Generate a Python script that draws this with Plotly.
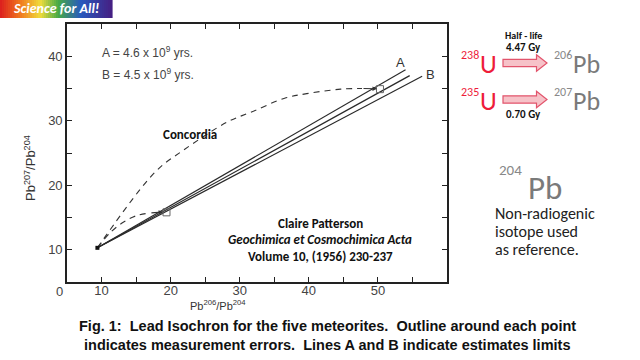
import plotly.graph_objects as go

# ---------------- data ----------------
primordial_x = [9.4]
primordial_y = [10.3]

line_a_x = [9.4, 54.0]
line_a_y = [10.3, 37.9]
line_mid_x = [9.4, 54.6]
line_mid_y = [10.3, 37.0]
line_b_x = [9.4, 56.4]
line_b_y = [10.3, 36.9]

growth_upper_x = [9.4, 17.8, 21.8, 28.2, 31.8, 36.5, 39.7, 44.6, 47.7]
growth_upper_y = [10.3, 22.1, 25.4, 29.8, 31.4, 33.5, 34.2, 34.9, 35.0]
growth_lower_x = [9.4, 11.3, 13.2, 15.1, 17.0]
growth_lower_y = [10.3, 12.7, 14.3, 15.3, 15.7]

meteorite_x = [19.4, 50.3]
meteorite_y = [15.8, 34.9]

x_tick_vals = [10, 20, 30, 40, 50]
y_tick_vals = [10, 20, 30, 40]

# ---------------- layout helpers ----------------
ML, MR, MT, MB = 67, 193, 24, 78
W, H = 640, 360
PW, PH = W - ML - MR, H - MT - MB


def px(x):
    return (x - ML) / PW


def py(y):
    return (H - MB - y) / PH


annotations = []


def txt(x, y, text, font, xanchor="center", yanchor="middle", **kw):
    annotations.append(dict(x=px(x), y=py(y), xref="paper", yref="paper", text=text,
                            showarrow=False, font=font, xanchor=xanchor, yanchor=yanchor, **kw))


fig = go.Figure()

ink = "#2a2a2a"
for xs, ys in [(line_a_x, line_a_y), (line_mid_x, line_mid_y), (line_b_x, line_b_y)]:
    fig.add_trace(go.Scatter(x=xs, y=ys, mode="lines",
                             line=dict(color=ink, width=1.2), hoverinfo="skip"))

for xs, ys in [(growth_upper_x, growth_upper_y), (growth_lower_x, growth_lower_y)]:
    fig.add_trace(go.Scatter(x=xs, y=ys, mode="lines",
                             line=dict(color="#333", width=1.1, dash="6px,5px", shape="spline"),
                             hoverinfo="skip"))

fig.add_trace(go.Scatter(x=meteorite_x, y=meteorite_y, mode="markers",
                         marker=dict(symbol="square-open", size=7, color="#666",
                                     line=dict(width=1)), hoverinfo="skip"))
fig.add_trace(go.Scatter(x=primordial_x, y=primordial_y, mode="markers",
                         marker=dict(symbol="square", size=4, color="#111"), hoverinfo="skip"))

# arrowheads at ends of growth curves
for (tx, ty, sx, sy) in [(meteorite_x[1] - 0.45, meteorite_y[1] + 0.05, growth_upper_x[-1], growth_upper_y[-1]),
                         (meteorite_x[0] - 0.5, meteorite_y[0] + 0.05, growth_lower_x[-1], growth_lower_y[-1])]:
    annotations.append(dict(x=tx, y=ty, ax=sx, ay=sy, xref="x", yref="y", axref="x", ayref="y",
                            showarrow=True, arrowhead=2, arrowsize=0.8, arrowwidth=1.1,
                            arrowcolor="#333", text=""))

annotations.append(dict(x=53.2, y=39.0, xref="x", yref="y", text="A", showarrow=False,
                        xanchor="center", yanchor="middle",
                        font=dict(family="Liberation Sans", size=13, color="#333")))
annotations.append(dict(x=57.6, y=37.1, xref="x", yref="y", text="B", showarrow=False,
                        xanchor="center", yanchor="middle",
                        font=dict(family="Liberation Sans", size=13, color="#333")))

tick_font = dict(family="Liberation Sans", size=13, color="#444")
txt(59, 291, "0", tick_font)

small = dict(family="Liberation Sans", size=12, color="#444")
txt(100, 52, "A = 4.6 x 10<sup>9</sup> yrs.", small, xanchor="left")
txt(100, 74, "B = 4.5 x 10<sup>9</sup> yrs.", small, xanchor="left")

cal = "Carlito, Lato, sans-serif"
bold12 = dict(family=cal, size=13, color="#111")
txt(190, 134, "<b>Concordia</b>", bold12)
txt(320, 223, "<b>Claire Patterson</b>", bold12)
txt(320, 240, "<b><i>Geochimica et Cosmochimica Acta</i></b>", bold12)
txt(320, 256, "<b>Volume 10, (1956) 230-237</b>", bold12)

# axis titles
txt(218, 305, "Pb<sup>206</sup>/Pb<sup>204</sup>", dict(family="Liberation Sans", size=11, color="#333"))
txt(30, 168, "Pb<sup>207</sup>/Pb<sup>204</sup>", dict(family="Liberation Sans", size=13, color="#333"),
    textangle=-90)

# caption
cap_font = dict(family="Liberation Sans, Arial, sans-serif", size=14.5, color="#111")
txt(327, 326, "<b>Fig. 1:  Lead Isochron for the five meteorites.  Outline around each point</b>", cap_font)
txt(327, 345, "<b>indicates measurement errors.  Lines A and B indicate estimates limits</b>", cap_font)

# right panel
red = "#ee1c3a"
grey = "#7a7a7a"
txt(523, 36, "<b>Half - life</b>", dict(family=cal, size=10, color="#111"))
txt(523, 47, "<b>4.47 Gy</b>", dict(family=cal, size=11, color="#111"))
txt(523, 115, "<b>0.70 Gy</b>", dict(family=cal, size=11, color="#111"))
for row_y, u_sup, pb_sup in [(63, "238", "206"), (100, "235", "207")]:
    txt(470, row_y - 8, u_sup, dict(family=cal, size=12, color=red))
    txt(488, row_y + 1, "U", dict(family=cal, size=26, color=red))
    txt(563, row_y - 8, pb_sup, dict(family=cal, size=12, color="#888"))
    txt(586, row_y + 1, "Pb", dict(family=cal, size=26, color=grey))

txt(510, 170, "204", dict(family=cal, size=15, color="#888"))
txt(545, 188, "Pb", dict(family=cal, size=33, color=grey))
for i, t in enumerate(["Non-radiogenic", "isotope used", "as reference."]):
    txt(493, 213 + i * 18, t, dict(family=cal, size=16, color="#222"), xanchor="left")

# logo text
txt(56, 9, "<b><i>Science for All!</i></b>", dict(family=cal, size=14, color="white"))

shapes = []
# rainbow logo bar
stops = [(0.0, (220, 30, 30)), (0.18, (240, 120, 30)), (0.36, (240, 220, 60)),
         (0.52, (70, 170, 70)), (0.72, (40, 90, 190)), (1.0, (70, 30, 130))]


def grad(t):
    for (t0, c0), (t1, c1) in zip(stops[:-1], stops[1:]):
        if t0 <= t <= t1:
            f = (t - t0) / (t1 - t0)
            return "rgb(%d,%d,%d)" % tuple(round(a + (b - a) * f) for a, b in zip(c0, c1))
    return "rgb(70,30,130)"


n = 56
bar_w = 112
for i in range(n):
    x0 = bar_w * i / n
    x1 = bar_w * (i + 1) / n + 0.6
    shapes.append(dict(type="rect", xref="paper", yref="paper", x0=px(x0), x1=px(x1),
                       y0=py(18), y1=py(0), fillcolor=grad((i + 0.5) / n), line=dict(width=0),
                       layer="below"))

# block arrows
for cy in [63, 99.5]:
    pts = [(503, cy - 3.7), (536.5, cy - 3.7), (536.5, cy - 8.3), (547, cy),
           (536.5, cy + 8.3), (536.5, cy + 3.7), (503, cy + 3.7)]
    path = "M " + " L ".join("%f,%f" % (px(a), py(b)) for a, b in pts) + " Z"
    shapes.append(dict(type="path", xref="paper", yref="paper", path=path,
                       fillcolor="#f6c2c8", line=dict(color="#e2546c", width=1.2)))

fig.update_layout(
    width=W, height=H,
    margin=dict(l=ML, r=MR, t=MT, b=MB),
    paper_bgcolor="white", plot_bgcolor="white",
    showlegend=False,
    annotations=annotations,
    shapes=shapes,
    xaxis=dict(range=[5, 60], tickvals=x_tick_vals, ticks="inside", ticklen=5, tickwidth=1.2,
               tickcolor="#222", showgrid=False, zeroline=False, showline=True, linecolor="#222",
               linewidth=1.6, mirror="ticks", tickfont=tick_font, ticklabelstandoff=-4,
               minor=dict(dtick=5, tick0=0, ticks="inside", ticklen=5, tickcolor="#222", showgrid=False)),
    yaxis=dict(range=[5, 45], tickvals=y_tick_vals, ticks="inside", ticklen=5, tickwidth=1.2,
               tickcolor="#222", showgrid=False, zeroline=False, showline=True, linecolor="#222",
               linewidth=1.6, mirror="ticks", tickfont=tick_font,
               minor=dict(dtick=5, tick0=0, ticks="inside", ticklen=5, tickcolor="#222", showgrid=False)),
)

fig.write_html("out.html", config={"displayModeBar": False},
               post_script="document.body.style.margin='0';document.body.style.padding='0';")
